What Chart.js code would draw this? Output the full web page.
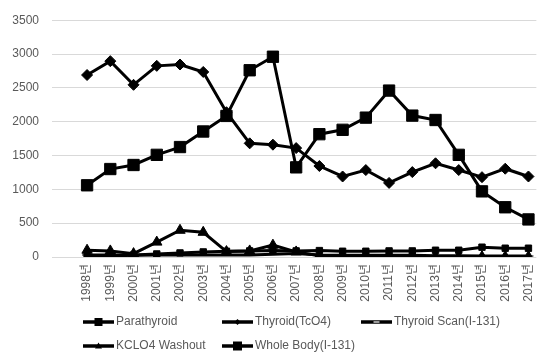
<!DOCTYPE html>
<html>
<head>
<meta charset="utf-8">
<script src="https://cdn.jsdelivr.net/npm/chart.js"></script>
<style>
  html, body { margin: 0; padding: 0; background: #fff; }
  #wrap { width: 550px; height: 355px; }
</style>
</head>
<body>
<div id="wrap"><canvas id="scanChart" width="550" height="355"></canvas></div>
<script>
// yearly exam counts
const years = [1998, 1999, 2000, 2001, 2002, 2003, 2004, 2005, 2006, 2007,
               2008, 2009, 2010, 2011, 2012, 2013, 2014, 2015, 2016, 2017];
const parathyroid = [5, 5, 30, 45, 60, 75, 85, 90, 95, 90, 95, 85, 85, 90, 90, 100, 100, 145, 130, 130];
const thyroidTcO4 = [2690, 2895, 2545, 2825, 2845, 2735, 2140, 1680, 1660, 1610,
                     1345, 1190, 1285, 1095, 1255, 1385, 1285, 1180, 1305, 1190];
const thyroidScan = [30, 30, 25, 30, 30, 30, 30, 30, 40, 50, 30, 25, 25, 25, 25, 20, 20, 15, 15, 15];
const kclo4Washout = [100, 90, 50, 220, 395, 365, 80, 90, 175, 75, 20, 5, 5, 5, 10, 5, 5, 5, 5, 5];
const wholeBody = [1060, 1300, 1360, 1510, 1625, 1855, 2085, 2760, 2960, 1325,
                   1815, 1880, 2060, 2460, 2090, 2025, 1510, 970, 735, 555];
const yTicks = [0, 500, 1000, 1500, 2000, 2500, 3000, 3500];

const FONT = "'Liberation Sans', 'Noto Sans CJK KR', sans-serif";
const GREY = '#595959';

function points(values) {
    return years.map((y, i) => ({ x: y, y: values[i] }));
}

function series(label, values, style, radius, order) {
    return {
        label: label,
        data: points(values),
        borderColor: '#000',
        backgroundColor: '#000',
        borderWidth: 3,
        pointStyle: style,
        pointRadius: radius,
        pointBorderWidth: 1,
        pointBorderColor: '#000',
        pointBackgroundColor: '#000',
        order: order
    };
}

const datasets = [
    series('Parathyroid', parathyroid, 'rect', 4.5, 5),
    series('Thyroid(TcO4)', thyroidTcO4, 'rectRot', 5.5, 4),
    series('Thyroid Scan(I-131)', thyroidScan, 'line', 5, 3),
    series('KCLO4 Washout', kclo4Washout, 'triangle', 6, 2),
    series('Whole Body(I-131)', wholeBody, 'rect', 8, 1)
];

// legend drawn below the axis in two rows
const legendSpots = [[83, 322], [222, 322], [361, 322], [83, 346], [222, 346]];

function drawMarker(ctx, style, x, y, r) {
    ctx.beginPath();
    if (style === 'rect') {
        ctx.rect(x - r, y - r, 2 * r, 2 * r);
        ctx.fill();
    } else if (style === 'rectRot') {
        ctx.moveTo(x, y - r);
        ctx.lineTo(x + r, y);
        ctx.lineTo(x, y + r);
        ctx.lineTo(x - r, y);
        ctx.closePath();
        ctx.fill();
    } else if (style === 'triangle') {
        ctx.moveTo(x, y - r);
        ctx.lineTo(x + r, y + r * 0.7);
        ctx.lineTo(x - r, y + r * 0.7);
        ctx.closePath();
        ctx.fill();
    } else {
        ctx.fillStyle = '#9a9a9a';
        ctx.fillRect(x - 3, y - 1, 6, 2);
    }
}

const bottomLegend = {
    id: 'bottomLegend',
    afterDraw(chart) {
        const ctx = chart.ctx;
        const markerSize = [4, 3, 0, 3.5, 4.5];
        ctx.save();
        chart.data.datasets.forEach((ds, i) => {
            const [x, y] = legendSpots[i];
            ctx.strokeStyle = '#000';
            ctx.lineWidth = 3.5;
            ctx.beginPath();
            ctx.moveTo(x, y);
            ctx.lineTo(x + 31, y);
            ctx.stroke();
            ctx.fillStyle = '#000';
            drawMarker(ctx, ds.pointStyle, x + 15.5, y, markerSize[i]);
            ctx.fillStyle = GREY;
            ctx.font = '12px ' + FONT;
            ctx.textAlign = 'left';
            ctx.textBaseline = 'middle';
            ctx.fillText(ds.label, x + 33, y);
        });
        ctx.restore();
    }
};

new Chart(document.getElementById('scanChart'), {
    type: 'line',
    data: { datasets: datasets },
    plugins: [bottomLegend],
    options: {
        responsive: false,
        animation: false,
        devicePixelRatio: 1,
        layout: { padding: { top: 17, left: 0, right: 0, bottom: 0 } },
        plugins: {
            legend: { display: false },
            tooltip: { enabled: false }
        },
        elements: { line: { tension: 0 } },
        scales: {
            x: {
                type: 'linear',
                min: 1996.49,
                max: 2017.34,
                afterBuildTicks: axis => { axis.ticks = years.map(v => ({ value: v })); },
                afterFit: scale => { scale.height = 98; },
                grid: { display: false, drawTicks: false },
                border: { display: false },
                ticks: {
                    autoSkip: false,
                    minRotation: 90,
                    maxRotation: 90,
                    padding: 7,
                    color: GREY,
                    font: { family: FONT, size: 12 },
                    callback: v => v + '년'
                }
            },
            y: {
                min: 0,
                max: 3500,
                afterBuildTicks: axis => { axis.ticks = yTicks.map(v => ({ value: v })); },
                afterFit: scale => { scale.width = 52; },
                grid: { color: '#d9d9d9', lineWidth: 1, drawTicks: false },
                border: { display: false },
                ticks: {
                    padding: 13,
                    color: GREY,
                    font: { family: FONT, size: 12 },
                    callback: v => String(v)
                }
            }
        }
    }
});
</script>
</body>
</html>
